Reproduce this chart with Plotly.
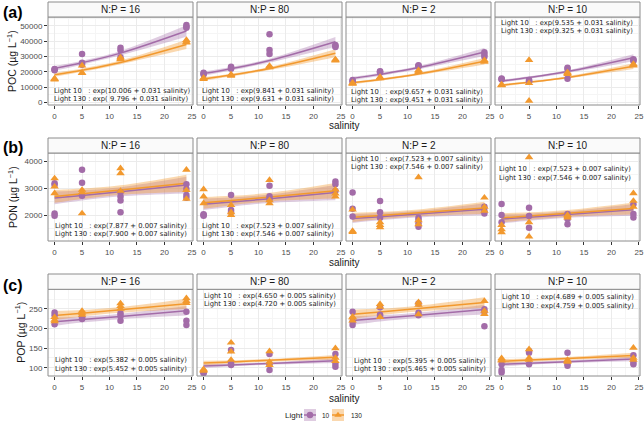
import plotly.graph_objects as go

W, H = 644, 424

# ---------------- data ----------------
salinity = [0, 5, 12, 24]
panel_titles = ["N:P = 16", "N:P = 80", "N:P = 2", "N:P = 10"]
light_levels = ["10", "130"]
x_tick_vals = [0, 5, 10, 15, 20, 25]

# POC (ug/L): observations grouped by salinity level [0, 5, 12, 24]
poc_np16_l10 = [[21000, 21500, 21800], [31600, 25900, 24500], [35700, 34000, 29400], [50500, 49400, 48800]]
poc_np16_l130 = [[15200, 14800, 15500], [19300, 19000, 24000], [29300, 28500, 28000], [40700, 39500, 39000]]
poc_np80_l10 = [[18600, 19300, 18200], [23300, 22000, 22500], [44400, 34200, 31600], [36800, 37500, 36200]]
poc_np80_l130 = [[15700, 15200, 15900], [17800, 17300, 18200], [23300, 22800, 23800], [27600, 28000, 27200]]
poc_np2_l10 = [[14600, 13500, 14000], [20000, 19500, 20300], [23900, 23500, 24200], [32700, 29800, 31000]]
poc_np2_l130 = [[12400, 12000, 12700], [16100, 15700, 16500], [20500, 19800, 21000], [27000, 26500, 27500]]
poc_np10_l10 = [[15200, 15600, 14900], [14600, 13500, 14000], [22600, 15400, 21800], [27600, 28200, 27000]]
poc_np10_l130 = [[11300, 11000, 11600], [27600, 1000, 12500], [19000, 18500, 19500], [24400, 24000, 25000]]
# fitted curves at salinity [0, 5, 12, 24], per panel (16, 80, 2, 10)
poc_fit_l10 = [[22170, 25880, 32160, 46630], [18800, 21950, 27270, 39540],
               [15640, 18260, 22690, 32900], [13840, 16160, 20080, 29120]]
poc_fit_l130 = [[17970, 20980, 26070, 37800], [15240, 17790, 22100, 32050],
                [12730, 14860, 18470, 26780], [11220, 13100, 16280, 23600]]
poc_band = [0.07, 0.05, 0.045, 0.08]  # relative CI half-width
poc_ticks = [0, 10000, 20000, 30000, 40000, 50000]
poc_eq_l10 = ["10.006", "9.841", "9.657", "9.535"]
poc_eq_l130 = [" 9.796", "9.631", "9.451", "9.325"]
poc_slope = "0.031"

# PON (ug/L)
pon_np16_l10 = [[3190, 3120, 2060, 1975], [3690, 3210, 2720], [2850, 2690, 2540, 2100], [3150, 2970, 2750, 2650]]
pon_np16_l130 = [[3370, 3060, 2810], [2940, 2850, 2060], [3750, 3560, 2900], [3690, 2930, 2600]]
pon_np80_l10 = [[2025, 1970, 2000], [2750, 2190, 2100], [3100, 2700, 2600], [3250, 3150, 2900]]
pon_np80_l130 = [[2960, 2690, 2440], [2370, 2000, 2100], [3310, 2440, 2550], [2690, 2800, 2950]]
pon_np2_l10 = [[2840, 2230, 1940], [2525, 2100, 1900], [1900, 1810, 1690, 1560], [2310, 2060, 2150]]
pon_np2_l130 = [[1400, 1360, 2200], [1725, 1625, 1540], [3410, 1800, 1650], [2650, 2150, 2300]]
pon_np10_l10 = [[2410, 2000, 1725], [2270, 1960, 1525], [2040, 1850, 1650], [2400, 2040, 1910]]
pon_np10_l130 = [[1625, 1460, 1350], [4160, 1725, 1190], [2000, 1900, 1950], [2810, 2525, 2300]]
pon_fit_l10 = [[2638, 2732, 2870, 3120], [2400, 2485, 2610, 2840],
               [1870, 1937, 2035, 2215], [1851, 1917, 2015, 2193]]
pon_fit_l130 = [[2697, 2794, 2936, 3192], [2455, 2542, 2670, 2905],
                [1912, 1980, 2080, 2265], [1894, 1962, 2062, 2245]]
pon_band = [0.09, 0.07, 0.06, 0.10]
pon_ticks = [2000, 3000, 4000]
pon_eq_l10 = ["7.877", "7.523", "7.523", "7.523"]
pon_eq_l130 = ["7.900", "7.546", "7.546", "7.546"]
pon_slope = "0.007"

# POP (ug/L)
pop_np16_l10 = [[241, 234, 211], [230, 224, 228], [239, 220, 232], [243, 220, 209]]
pop_np16_l130 = [[222, 229, 218], [245, 235, 240], [264, 257, 250], [277, 270, 265]]
pop_np80_l10 = [[90, 86, 88], [145, 107, 110], [135, 109, 94], [135, 102.5, 110]]
pop_np80_l130 = [[94, 92, 96], [164, 141, 120], [142, 107, 115], [149.5, 117, 125]]
pop_np2_l10 = [[243, 217, 209], [254, 232, 235], [264, 234, 240], [249, 243, 206]]
pop_np2_l130 = [[227.5, 220, 230], [262, 229, 255], [267, 260, 236], [270, 237, 245]]
pop_np10_l10 = [[108.7, 94, 88], [142.6, 138, 108.7], [138, 105, 110], [132, 108.7, 115]]
pop_np10_l130 = [[124, 118, 120], [147, 120, 125], [117, 120, 115], [151, 120, 125]]
pop_fit_l10 = [[217.5, 223.0, 230.9, 245.2], [104.6, 107.2, 111.0, 117.9],
               [220.3, 225.9, 233.9, 248.4], [108.7, 111.5, 115.4, 122.6]]
pop_fit_l130 = [[233.2, 239.1, 247.6, 263.0], [112.2, 115.0, 119.1, 126.5],
                [236.3, 242.3, 250.8, 266.4], [116.6, 119.5, 123.7, 131.5]]
pop_band = [0.05, 0.035, 0.03, 0.05]
pop_ticks = [100, 150, 200, 250]
pop_eq_l10 = ["5.382", "4.650", "5.395", "4.689"]
pop_eq_l130 = ["5.452", "4.720", "5.465", "4.759"]
pop_slope = "0.005"

# ---------------- styling / layout ----------------
C10 = "#A36CA8"
C130 = "#F2992E"
F10 = "rgba(163,108,168,0.35)"
F130 = "rgba(242,153,46,0.38)"
SANS = "Liberation Sans, Arial, sans-serif"
EQF = "DejaVu Sans, Verdana, sans-serif"

col_px = [(48, 193), (197, 342), (346, 491), (495, 640)]
row_px = [(17, 105), (153, 241), (289.3, 376)]
strip_px = [(2, 17), (138, 153), (274, 289.3)]
title_x_px = [11, 13, 20]
xlab_y_px = [125.5, 262, 398.5]
panel_lab_y_px = [12.5, 147.5, 285.5]

eq_pos = [
    [(51.7, 90.7, 99.3), (200, 90.7, 99.3), (349.3, 91.5, 100), (499, 22.7, 31)],
    [(52.7, 225.7, 234.3), (200, 225.7, 234.3), (349.3, 159, 167.3), (497.3, 169, 177.7)],
    [(53.3, 360, 369.3), (201.7, 296, 304.3), (351.7, 360.7, 369.3), (500, 297.3, 306)],
]

rows = [
    dict(label="(a)", title="POC (µg L<sup>−1</sup>)",
         l10=[poc_np16_l10, poc_np80_l10, poc_np2_l10, poc_np10_l10],
         l130=[poc_np16_l130, poc_np80_l130, poc_np2_l130, poc_np10_l130],
         fit10=poc_fit_l10, fit130=poc_fit_l130, band=poc_band, ticks=poc_ticks,
         yrange=[-1760, 55750], minor=5000,
         eq10=poc_eq_l10, eq130=poc_eq_l130, slope=poc_slope),
    dict(label="(b)", title="PON (µg L<sup>−1</sup>)",
         l10=[pon_np16_l10, pon_np80_l10, pon_np2_l10, pon_np10_l10],
         l130=[pon_np16_l130, pon_np80_l130, pon_np2_l130, pon_np10_l130],
         fit10=pon_fit_l10, fit130=pon_fit_l130, band=pon_band, ticks=pon_ticks,
         yrange=[1026, 4322], minor=500,
         eq10=pon_eq_l10, eq130=pon_eq_l130, slope=pon_slope),
    dict(label="(c)", title="POP (µg L<sup>−1</sup>)",
         l10=[pop_np16_l10, pop_np80_l10, pop_np2_l10, pop_np10_l10],
         l130=[pop_np16_l130, pop_np80_l130, pop_np2_l130, pop_np10_l130],
         fit10=pop_fit_l10, fit130=pop_fit_l130, band=pop_band, ticks=pop_ticks,
         yrange=[79, 300], minor=25,
         eq10=pop_eq_l10, eq130=pop_eq_l130, slope=pop_slope),
]

fig = go.Figure()
layout = dict(width=W, height=H, autosize=False,
              margin=dict(l=0, r=0, t=0, b=0, pad=0),
              paper_bgcolor="white", plot_bgcolor="white",
              showlegend=False, font=dict(family=SANS, color="#1A1A1A"))
shapes = []
annotations = []

NB = "\u00a0"


def px2x(p):
    return p / W


def px2y(p):
    return 1 - p / H


for r, row in enumerate(rows):
    y0p, y1p = row_px[r]
    ymin, ymax = row["yrange"]
    minor_vals = []
    v = 0
    while v <= ymax:
        if v >= ymin:
            minor_vals.append(v)
        v += row["minor"]
    for c in range(4):
        k = r * 4 + c + 1
        xa = "x" if k == 1 else f"x{k}"
        ya = "y" if k == 1 else f"y{k}"
        x0p, x1p = col_px[c]
        layout["xaxis" if k == 1 else f"xaxis{k}"] = dict(
            domain=[px2x(x0p), px2x(x1p)], range=[-1.2, 25.2], anchor=ya,
            tickvals=x_tick_vals, ticks="outside", ticklen=3, tickwidth=0.8,
            tickcolor="#333333", tickfont=dict(size=8, color="#4D4D4D", family=SANS),
            showgrid=True, gridcolor="#EBEBEB", gridwidth=0.8, zeroline=False,
            showline=False, automargin=False,
            minor=dict(tickvals=[2.5, 7.5, 12.5, 17.5, 22.5], showgrid=True,
                       gridcolor="#F5F5F5", gridwidth=0.6, ticks=""),
        )
        layout["yaxis" if k == 1 else f"yaxis{k}"] = dict(
            domain=[px2y(y1p), px2y(y0p)], range=row["yrange"], anchor=xa,
            tickvals=row["ticks"], ticktext=[str(t) for t in row["ticks"]],
            showticklabels=(c == 0),
            ticks="outside" if c == 0 else "", ticklen=3, tickwidth=0.8,
            tickcolor="#333333", tickfont=dict(size=8, color="#4D4D4D", family=SANS),
            showgrid=True, gridcolor="#EBEBEB", gridwidth=0.8, zeroline=False,
            showline=False, automargin=False,
            minor=dict(tickvals=minor_vals, showgrid=True, gridcolor="#F5F5F5",
                       gridwidth=0.6, ticks=""),
        )
        # bands
        for fits, fcol in ((row["fit10"], F10), (row["fit130"], F130)):
            f = fits[c]
            lo = [fv * (1 - w) for fv, w in zip(f, row["band"])]
            hi = [fv * (1 + w) for fv, w in zip(f, row["band"])]
            fig.add_trace(go.Scatter(x=salinity, y=lo, mode="lines",
                                     line=dict(width=0, shape="spline"),
                                     xaxis=xa, yaxis=ya, hoverinfo="skip"))
            fig.add_trace(go.Scatter(x=salinity, y=hi, mode="lines",
                                     line=dict(width=0, shape="spline"),
                                     fill="tonexty", fillcolor=fcol,
                                     xaxis=xa, yaxis=ya, hoverinfo="skip"))
        # fit lines
        for fits, lcol in ((row["fit10"], C10), (row["fit130"], C130)):
            fig.add_trace(go.Scatter(x=salinity, y=fits[c], mode="lines",
                                     line=dict(width=1.5, color=lcol, shape="spline"),
                                     xaxis=xa, yaxis=ya, hoverinfo="skip"))
        # points
        for grp, mcol, sym, size in ((row["l10"], C10, "circle", 6.5),
                                     (row["l130"], C130, "triangle-up", 7.5)):
            g = grp[c]
            xs = [s for s, vals in zip(salinity, g) for _ in vals]
            ys = [vv for vals in g for vv in vals]
            fig.add_trace(go.Scatter(x=xs, y=ys, mode="markers",
                                     marker=dict(color=mcol, symbol=sym, size=size,
                                                 line=dict(width=0)),
                                     xaxis=xa, yaxis=ya))
        # panel border
        shapes.append(dict(type="rect", xref="paper", yref="paper",
                           x0=px2x(x0p), x1=px2x(x1p), y0=px2y(y1p), y1=px2y(y0p),
                           line=dict(color="#8C8C8C", width=1), fillcolor="rgba(0,0,0,0)",
                           layer="above"))
        # strip
        s0, s1 = strip_px[r]
        shapes.append(dict(type="rect", xref="paper", yref="paper",
                           x0=px2x(x0p), x1=px2x(x1p), y0=px2y(s1), y1=px2y(s0),
                           line=dict(color="#8C8C8C", width=1), fillcolor="#FAFAFA",
                           layer="above"))
        annotations.append(dict(text=panel_titles[c], xref="paper", yref="paper",
                                x=px2x((x0p + x1p) / 2), y=px2y((s0 + s1) / 2),
                                xanchor="center", yanchor="middle", showarrow=False,
                                font=dict(size=10, color="#1A1A1A", family=SANS)))
        # equations
        ex, ey1, ey2 = eq_pos[r][c]
        t1 = f"Light 10{NB*3}: exp({row['eq10'][c]} + {row['slope']} salinity)"
        t2 = f"Light 130 : exp({row['eq130'][c].replace(' ', NB)} + {row['slope']} salinity)"
        for t, ey in ((t1, ey1), (t2, ey2)):
            annotations.append(dict(text=t, xref="paper", yref="paper",
                                    x=px2x(ex), y=px2y(ey), xanchor="left",
                                    yanchor="middle", showarrow=False,
                                    font=dict(size=6.8, color="#1A1A1A", family=EQF)))
    # row titles
    annotations.append(dict(text=row["title"], xref="paper", yref="paper",
                            x=px2x(title_x_px[r]), y=px2y((y0p + y1p) / 2),
                            textangle=-90, xanchor="center", yanchor="middle",
                            showarrow=False, font=dict(size=10.5, color="#1A1A1A", family=SANS)))
    annotations.append(dict(text="salinity", xref="paper", yref="paper",
                            x=px2x(344), y=px2y(xlab_y_px[r]), xanchor="center",
                            yanchor="middle", showarrow=False,
                            font=dict(size=10, color="#1A1A1A", family=SANS)))
    annotations.append(dict(text=f"<b>{row['label']}</b>", xref="paper", yref="paper",
                            x=px2x(1), y=px2y(panel_lab_y_px[r]), xanchor="left",
                            yanchor="middle", showarrow=False,
                            font=dict(size=16, color="#000000", family=SANS)))

# ---------------- legend (drawn on a hidden pixel-coordinate axis) ----------------
layout["xaxis13"] = dict(domain=[270 / W, 370 / W], range=[270, 370], visible=False,
                         anchor="y13", fixedrange=True)
layout["yaxis13"] = dict(domain=[0, 20 / H], range=[424, 404], visible=False,
                         anchor="x13", fixedrange=True)
leg_keys = [(310, C10, F10, "circle", light_levels[0], 320),
            (338, C130, F130, "triangle-up", light_levels[1], 349)]
annotations.append(dict(text="Light", xref="x13", yref="y13", x=283, y=415,
                        xanchor="left", yanchor="middle", showarrow=False,
                        font=dict(size=8, color="#1A1A1A", family=SANS)))
for cx, lc, fc, sym, lab, tx in leg_keys:
    shapes.append(dict(type="rect", xref="x13", yref="y13", x0=cx - 6, x1=cx + 6,
                       y0=409, y1=421, fillcolor=fc, line=dict(width=0)))
    fig.add_trace(go.Scatter(x=[cx - 6, cx + 6], y=[415, 415], mode="lines",
                             line=dict(color=lc, width=1.5), xaxis="x13", yaxis="y13",
                             hoverinfo="skip"))
    fig.add_trace(go.Scatter(x=[cx], y=[415], mode="markers",
                             marker=dict(color=lc, symbol=sym, size=6.5),
                             xaxis="x13", yaxis="y13", hoverinfo="skip"))
    annotations.append(dict(text=lab, xref="x13", yref="y13", x=tx, y=415,
                            xanchor="left", yanchor="middle", showarrow=False,
                            font=dict(size=6.5, color="#1A1A1A", family=SANS)))

layout["shapes"] = shapes
layout["annotations"] = annotations
fig.update_layout(**layout)
fig.write_html("out.html", config={"displayModeBar": False},
               post_script="document.body.style.margin='0px';document.body.style.padding='0px';document.body.style.overflow='hidden';")
